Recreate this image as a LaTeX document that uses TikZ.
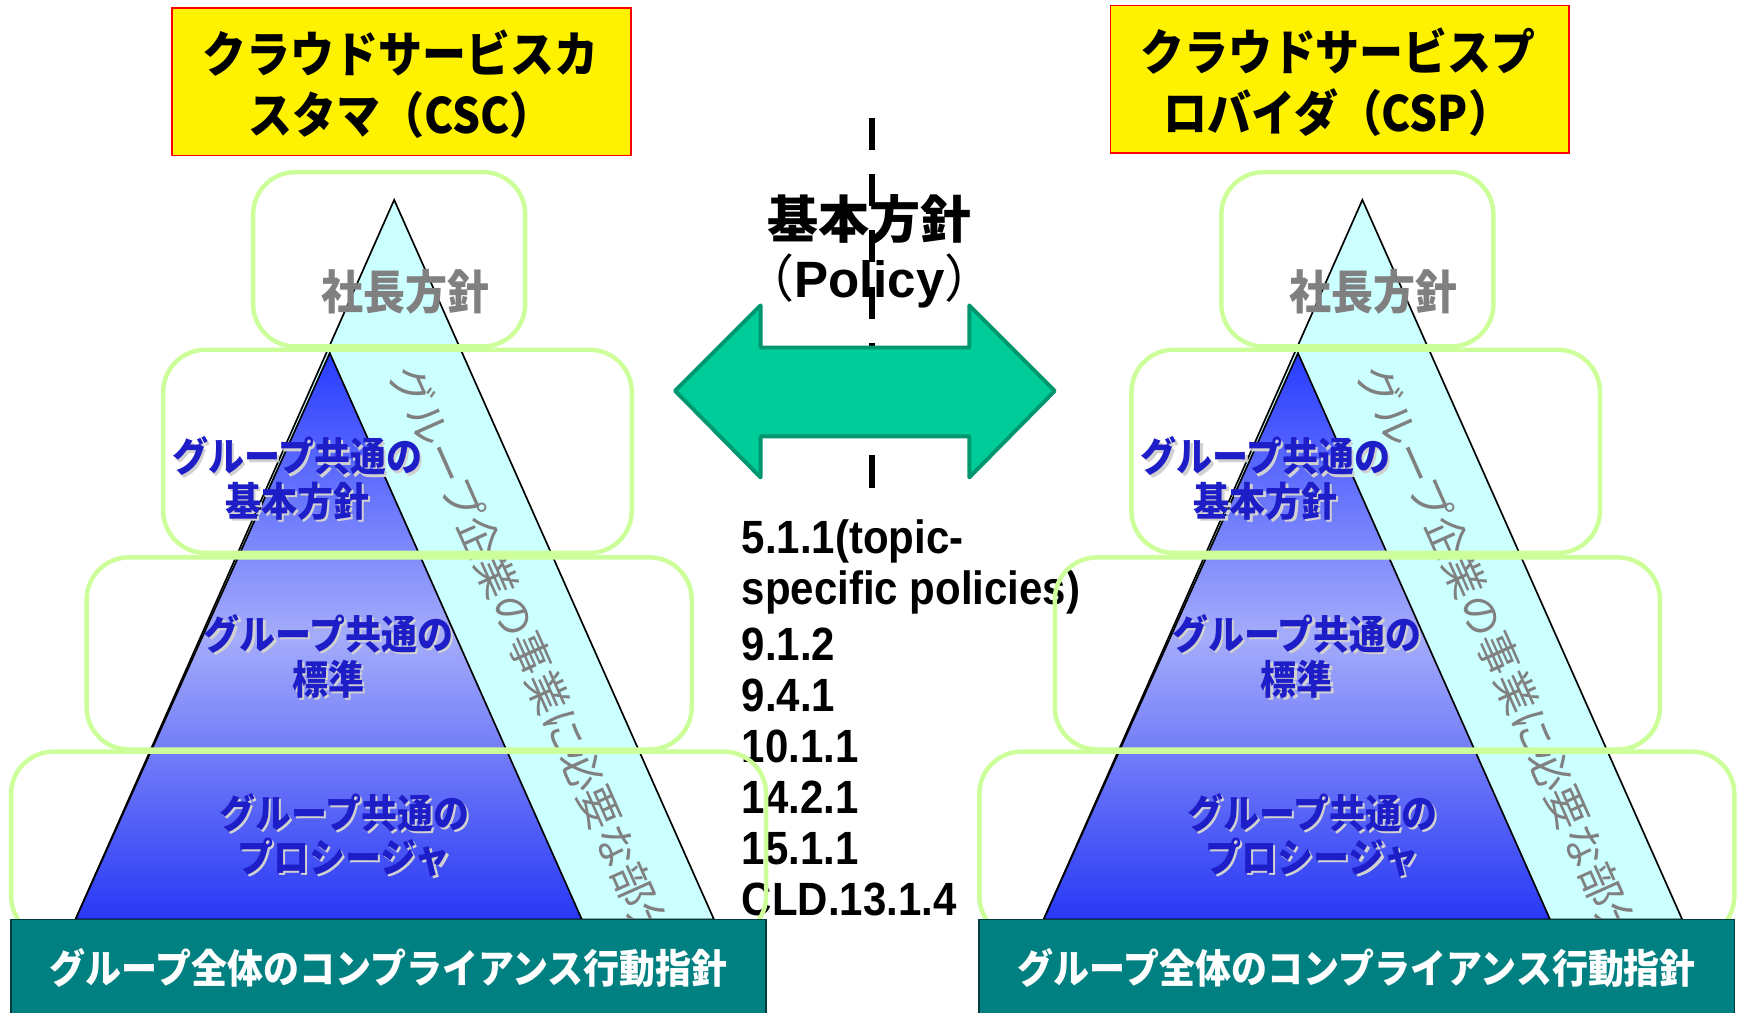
\documentclass[tikz,border=0pt]{standalone}
\usepackage{fontspec}
\newfontfamily\jp{Noto Sans CJK JP}
\newfontfamily\jpn[FakeStretch=0.9]{Noto Sans CJK JP}
\newfontfamily\arn[FakeStretch=0.9]{Liberation Sans}
\newfontfamily\arial{Liberation Sans}
\definecolor{bandc}{RGB}{204,255,255}
\definecolor{boxgreen}{RGB}{204,255,153}
\definecolor{teal2}{RGB}{0,128,128}
\definecolor{tealdark}{RGB}{0,60,60}
\definecolor{arrowfill}{RGB}{0,204,153}
\definecolor{arrowline}{RGB}{0,150,110}
\definecolor{labblue}{RGB}{30,30,200}
\definecolor{bluetop}{RGB}{40,60,255}
\definecolor{bluemid}{RGB}{165,172,250}
\definecolor{bluebot}{RGB}{40,56,245}
\begin{document}
\begin{tikzpicture}[x=1pt,y=-1pt,
  gbox/.style={draw=boxgreen,line width=4pt,rounded corners=38pt},
  ybox/.style={fill=yellow,draw=red,line width=1.5pt},
  tbar/.style={fill=teal2,draw=tealdark,line width=1.5pt},
  ttext/.style={text=white,font=\jpn\bfseries\fontsize{36}{40}\selectfont,inner sep=0pt},
  ytext/.style={text=black,align=center,font=\jpn\bfseries\fontsize{44}{55}\selectfont,inner sep=0pt},
  blab/.style={text=labblue,align=center,font=\jpn\bfseries\fontsize{36}{40}\selectfont,inner sep=0pt},
  blabs/.style={text=black!18,align=center,font=\jpn\bfseries\fontsize{36}{40}\selectfont,inner sep=0pt},
  glab/.style={text=black!50,font=\jpn\bfseries\fontsize{42}{46}\selectfont,inner sep=0pt},
  bandtext/.style={text=black!50,font=\jp\fontsize{38}{40}\selectfont,inner sep=0pt,rotate=-66,anchor=west},
  numtext/.style={text=black,font=\arn\bfseries\fontsize{42}{46}\selectfont,inner sep=0pt,anchor=west},
  hline/.style={line width=3pt,draw=black}]
\useasboundingbox (0,0) rectangle (1568,912);
\fill[white] (0,0) rectangle (1568,912);

% pyramids
\foreach \s/\p in {0/L,872/R}{
\begin{scope}[xshift=\s]
  \filldraw[fill=bandc,draw=black,line width=1.5pt] (355,180) -- (643,828) -- (68,828) -- cycle;
  \shadedraw[top color=bluetop,bottom color=bluebot,middle color=bluemid,draw=black,line width=1.5pt]
    (297,318) -- (524,828) -- (68,828) -- cycle;
  \draw[hline] (295,315) -- (415,315);
  \draw[hline] (213,500) -- (497,500);
  \draw[hline] (136,675) -- (575,675);
  \node[bandtext] (band\p) at (363,330) {グループ企業の事業に必要な部分};
  \node[glab] (pres\p) at (365,263) {社長方針};
  \node[blabs] (b1s\p) at (270,433) {グループ共通の\\基本方針};
  \node[blab] (b1\p) at (268,431) {グループ共通の\\基本方針};
  \node[blabs] (b2s\p) at (298,593) {グループ共通の\\標準};
  \node[blab] (b2\p) at (296,591) {グループ共通の\\標準};
  \node[blabs] (b3s\p) at (312,754) {グループ共通の\\プロシージャ};
  \node[blab] (b3\p) at (310,752) {グループ共通の\\プロシージャ};
\end{scope}
}

% center dashed line
\coordinate (dtop) at (785,106);
\coordinate (dbot) at (785,440);
\draw[line width=5.5pt,dash pattern=on 29pt off 21.7pt] (dtop) -- (dbot);

% double arrow
\filldraw[fill=arrowfill,draw=arrowline,line width=3.5pt,line join=round]
  (608,352) -- (685,275) -- (685,313) -- (873,313) -- (873,275) -- (950,352)
  -- (873,430) -- (873,393) -- (685,393) -- (685,430) -- cycle;

\node[font=\jp\bfseries\fontsize{46}{50}\selectfont,inner sep=0pt] (kihon) at (783,197) {基本方針};
\node[inner sep=0pt] (policy) at (783,253)
  {{\jp\fontsize{46}{50}\selectfont （}{\arial\bfseries\fontsize{46}{50}\selectfont Policy}{\jp\fontsize{46}{50}\selectfont ）}};

% numbers
\node[numtext] (n1) at (668,488) {5.1.1(topic-};
\node[numtext] (n2) at (668,534) {specific policies)};
\node[numtext] (n3) at (668,580) {9.1.2};
\node[numtext] (n4) at (668,626) {9.4.1};
\node[numtext] (n5) at (668,672) {10.1.1};
\node[numtext] (n6) at (668,718) {14.2.1};
\node[numtext] (n7) at (668,764) {15.1.1};
\node[numtext] (n8) at (668,810) {CLD.13.1.4};

% green rounded boxes
\foreach \s in {0,872}{
\begin{scope}[xshift=\s]
  \draw[gbox] (228,155) rectangle (473,312);
  \draw[gbox] (147,315) rectangle (569,498);
  \draw[gbox] (78,502) rectangle (623,675);
  \draw[gbox] (10,677) rectangle (690,845);
\end{scope}
}

% teal bars
\filldraw[tbar] (10,828) rectangle (690,914);
\node[ttext] (barL) at (350,872) {グループ全体のコンプライアンス行動指針};
\filldraw[tbar] (882,828) rectangle (1562,914);
\node[ttext] (barR) at (1222,872) {グループ全体のコンプライアンス行動指針};

% yellow title boxes
\filldraw[ybox] (155,7) rectangle (568,140);
\node[ytext] (csc) at (361,76) {クラウドサービスカ\\スタマ（CSC）};
\filldraw[ybox] (1000,5) rectangle (1413,138);
\node[ytext] (csp) at (1205,74) {クラウドサービスプ\\ロバイダ（CSP）};
\end{tikzpicture}
\end{document}
